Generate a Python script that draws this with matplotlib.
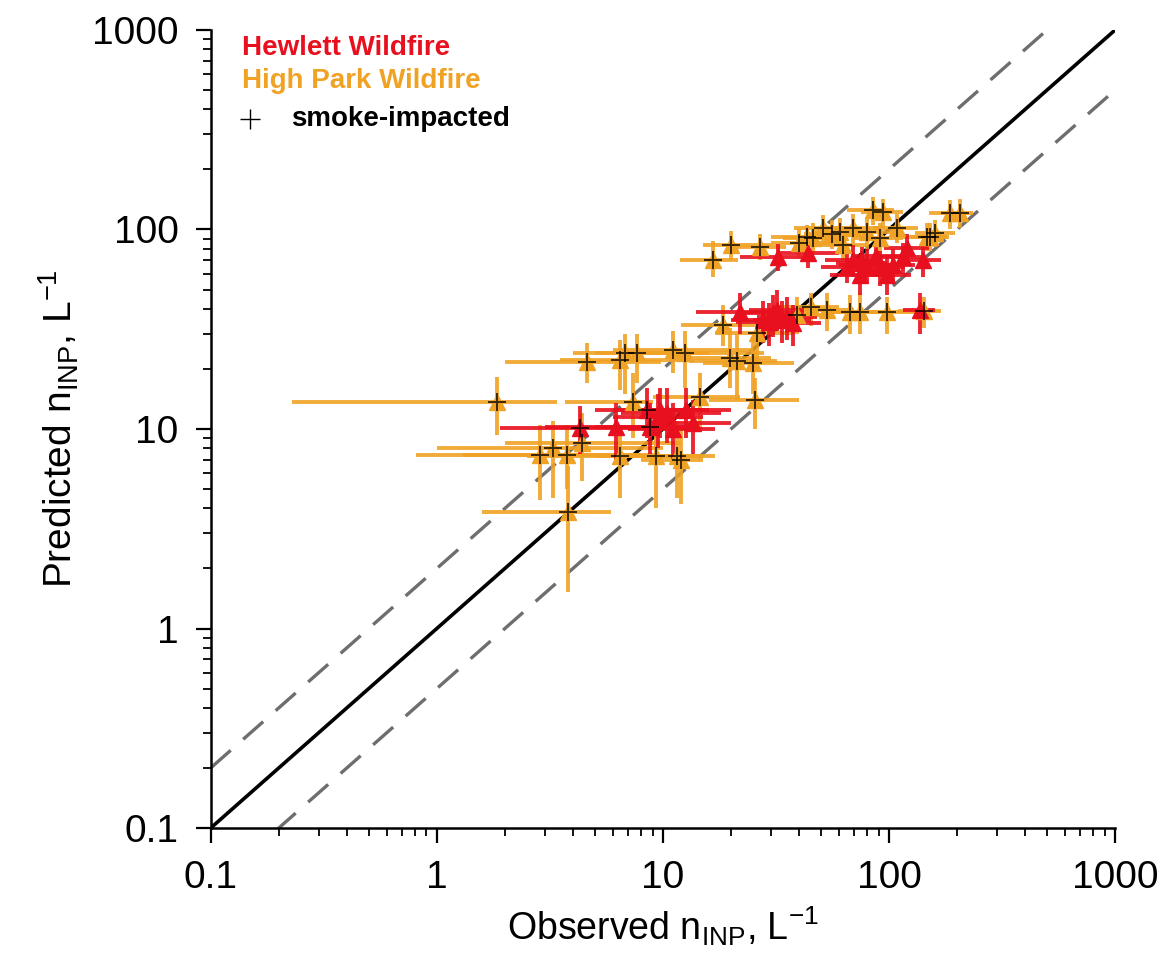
import matplotlib.pyplot as plt
import numpy as np

# High Park wildfire (orange) : observed, predicted and error bar bounds
hp_x   = [1.84, 4.6, 6.45, 6.8, 7.65, 11.1, 12.5, 7.4, 2.86, 3.26, 3.75, 4.37, 6.45, 3.8, 9.3, 11.5, 12.0,
          14.6, 19.8, 21.2, 25, 25.5, 26, 18.4, 39, 45, 53, 67, 74.5, 97.7, 143,
          16.6, 20.1, 26.8, 43.4, 46, 51, 60.7, 62.5, 69.3, 80, 85, 94, 91, 108, 147, 152, 160, 186, 206, 56, 40]
hp_y   = [13.6, 21.7, 22.2, 24, 24, 24.9, 24, 13.7, 7.4, 8.0, 7.4, 8.5, 7.3, 3.85, 7.3, 7.3, 7.0,
          14.5, 22.7, 22, 21.4, 14.0, 30.3, 33.2, 37.3, 41, 39.5, 38.7, 38.7, 38.7, 39,
          70.3, 83.6, 81.7, 91.6, 90.6, 101.6, 97, 83.6, 102, 97, 125, 122, 90.6, 102, 91.6, 91.6, 96, 121, 121, 95, 86]
hp_xlo = [0.23, 2.0, 3.5, 4, 5, 6, 7, 3.7, 0.81, 1.0, 1.3, 2, 2.5, 1.58, 5, 7, 8,
          9, 12, 13, 15, 16, 17, 12, 28, 32, 40, 50, 55, 75, 110,
          11.9, 15, 20, 30, 34, 38, 45, 46, 52, 60, 65, 75, 70, 85, 115, 125, 130, 150, 170, 42, 30]
hp_xhi = [3.4, 9.8, 12, 14, 16, 25, 28, 9.0, 8, 10, 9, 12, 14, 5.9, 15, 17, 15,
          22, 30, 32, 38, 40, 38, 27, 50, 60, 70, 90, 100, 130, 170,
          21.5, 30, 35, 60, 62, 68, 80, 80, 90, 105, 105, 115, 115, 135, 180, 185, 195, 225, 235, 75, 55]
hp_ylo = [9.3, 17, 15.7, 15, 17, 19, 16, 9, 4.4, 4.5, 5, 5.5, 4.5, 1.52, 4, 4.5, 4.2,
          10, 16, 14, 15, 10, 22, 26, 30, 33, 31, 30, 30, 30, 32,
          58, 70, 70, 75, 75, 85, 82, 70, 86, 80, 105, 102, 76, 86, 78, 78, 82, 100, 102, 80, 72]
hp_yhi = [18.3, 27, 27.9, 30, 30, 31, 31, 19, 10.5, 11, 10.5, 12, 10, 6.5, 10.5, 11, 10,
          19, 32, 30, 28, 18, 36, 42, 46, 48, 48, 47, 48, 46, 46,
          88, 98, 95, 105, 108, 118, 114, 100, 120, 115, 145, 142, 108, 120, 108, 108, 112, 140, 142, 112, 100]

# Hewlett wildfire (red)
hw_x   = [4.3, 6.2, 8.5, 9.7, 10.4, 12.7, 13.6, 11.1, 8.8, 9.5,
          21.9, 27.7, 30.7, 32, 33.6, 35.4, 29.6, 37.5, 137,
          32.3, 43.9, 69, 80, 91, 104, 120, 141, 115, 74.5, 98, 88, 65, 76]
hw_y   = [10.1, 10.2, 12.5, 12.5, 12.0, 12.5, 10.7, 10.0, 10.2, 11.5,
          38.7, 35.2, 38, 39.5, 35.2, 36.6, 34.5, 33.8, 39.5,
          72.8, 76, 70.3, 66.4, 64.9, 66, 80.7, 70.3, 72.8, 59.2, 59, 74, 65, 68]
hw_xlo = [1.9, 3, 5, 6, 6.5, 8, 9, 7, 5, 6,
          14, 20, 22, 24, 25, 26, 21, 28, 115,
          22, 32, 52, 60, 70, 80, 95, 115, 92, 55, 75, 68, 50, 58]
hw_xhi = [14, 13, 15, 16, 18, 20, 20, 17, 14, 15,
          30, 38, 42, 42, 45, 48, 40, 50, 160,
          45, 60, 90, 105, 118, 130, 150, 170, 140, 100, 125, 112, 85, 98]
hw_ylo = [7.5, 7, 9, 9, 8.5, 9, 7.5, 7, 7.5, 8,
          30, 27, 29, 31, 27, 28, 26, 26, 30,
          62, 64, 58, 54, 52, 54, 68, 58, 60, 47, 47, 62, 54, 55]
hw_yhi = [13, 13.5, 16, 16, 16, 16, 14, 13.5, 13.5, 15,
          48, 44, 47, 50, 44, 46, 43, 42, 48,
          85, 88, 84, 80, 78, 80, 95, 84, 86, 72, 72, 88, 78, 82]
hw_smoke = [True, False, True, False, False, False, False, False, True, False,
            False, False, False, False, False, False, False, False, False,
            False, False, False, False, False, False, False, False, False, False, False, False, False, False]

red = "#e8101e"
orange = "#f0a224"

plt.rcParams['font.family'] = ['Liberation Sans', 'DejaVu Sans']

fig = plt.figure(figsize=(11.64, 9.67), dpi=100)
ax = fig.add_axes([0.181, 0.1437, 0.777, 0.8253])

# 1:1 and factor-of-2 lines
lims = np.array([0.1, 1000])
ax.plot(lims, lims, color="black", lw=2.6, zorder=2)
ax.plot(lims, 2 * lims, color="#6e6e6e", lw=2.4, ls=(0, (8, 5)), zorder=2)
ax.plot(lims, lims / 2, color="#6e6e6e", lw=2.4, ls=(0, (8, 5)), zorder=2)

def draw(x, y, xlo, xhi, ylo, yhi, col):
    x = np.array(x); y = np.array(y)
    xe = [x - np.array(xlo), np.array(xhi) - x]
    ye = [y - np.array(ylo), np.array(yhi) - y]
    ax.errorbar(x, y, xerr=xe, yerr=ye, fmt="none", ecolor=col, elinewidth=2.8,
                capsize=0, alpha=0.9, zorder=3)
    ax.plot(x, y, "^", color=col, ms=11, mec=col, zorder=4)

draw(hp_x, hp_y, hp_xlo, hp_xhi, hp_ylo, hp_yhi, orange)
draw(hw_x, hw_y, hw_xlo, hw_xhi, hw_ylo, hw_yhi, red)

# smoke-impacted crosses
sx = list(hp_x) + [v for v, s in zip(hw_x, hw_smoke) if s]
sy = list(hp_y) + [v for v, s in zip(hw_y, hw_smoke) if s]
ax.plot(sx, sy, "+", color="black", ms=13, mew=1.4, alpha=0.75, zorder=5)

ax.set_xscale("log")
ax.set_yscale("log")
ax.set_xlim(0.1, 1000)
ax.set_ylim(0.1, 1000)
ticks = [0.1, 1, 10, 100, 1000]
tick_labels = ["0.1", "1", "10", "100", "1000"]
ax.set_xticks(ticks)
ax.set_xticklabels(tick_labels)
ax.set_yticks(ticks)
ax.set_yticklabels(tick_labels)

for s in ["top", "right"]:
    ax.spines[s].set_visible(False)
for s in ["left", "bottom"]:
    ax.spines[s].set_linewidth(1.8)
ax.tick_params(which="major", direction="out", length=11, width=1.6, labelsize=28, pad=12)
ax.tick_params(which="minor", direction="out", length=6, width=1.3)

ax.set_xlabel(r"Observed n$_\mathregular{INP}$, L$^\mathregular{-1}$", fontsize=27, labelpad=6)
ax.set_ylabel(r"Predicted n$_\mathregular{INP}$, L$^\mathregular{-1}$", fontsize=28, labelpad=8)

# legend as coloured text
ax.text(0.035, 0.978, "Hewlett Wildfire", color=red, fontsize=20, fontweight="bold",
        transform=ax.transAxes, va="center")
ax.text(0.035, 0.936, "High Park Wildfire", color=orange, fontsize=20, fontweight="bold",
        transform=ax.transAxes, va="center")
ax.plot([0.043], [0.889], "+", color="black", ms=14, mew=1.0, transform=ax.transAxes, clip_on=False)
ax.text(0.089, 0.889, "smoke-impacted", color="black", fontsize=20, fontweight="bold",
        transform=ax.transAxes, va="center")

plt.savefig("out.png", dpi=100)
